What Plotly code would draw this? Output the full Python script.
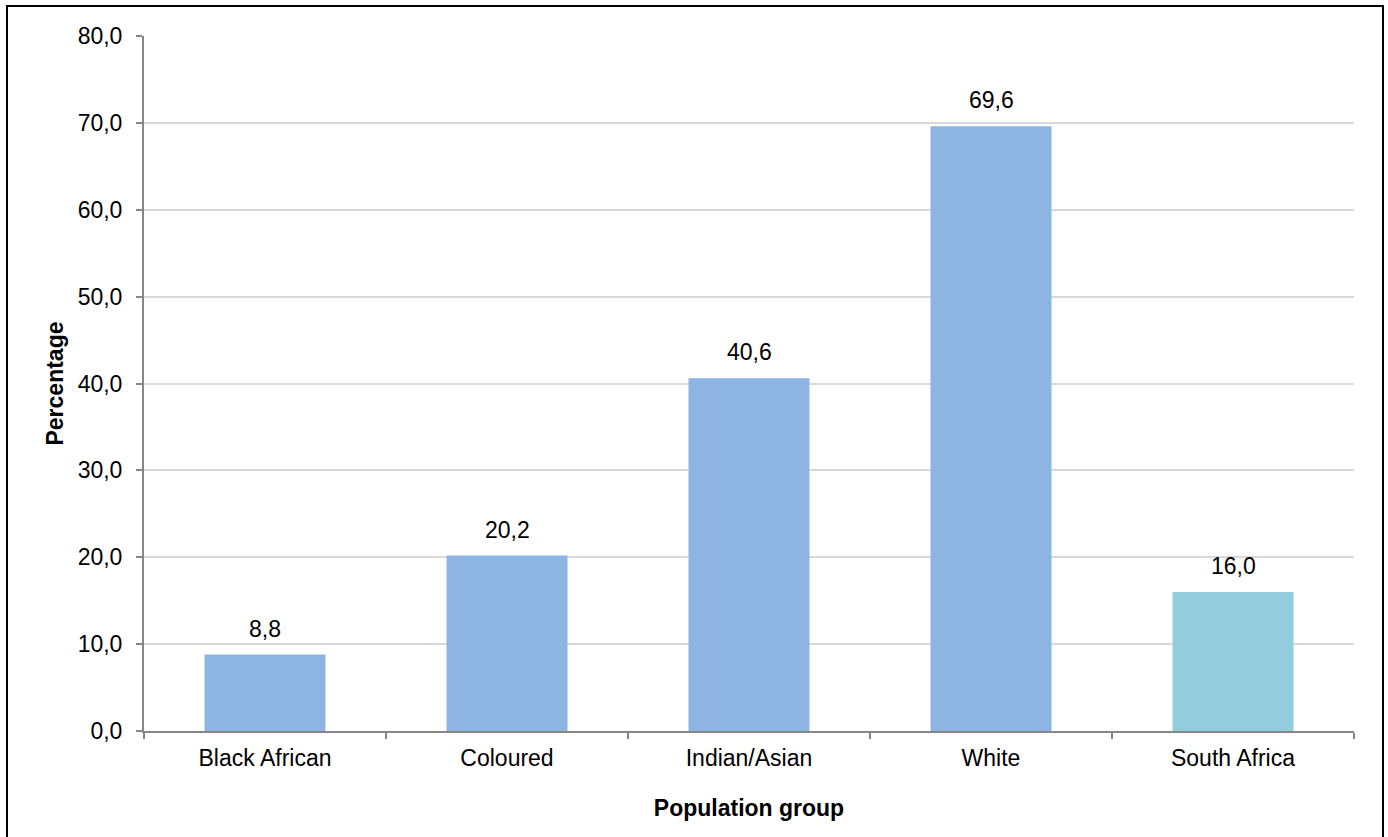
import plotly.graph_objects as go

categories = ["Black African", "Coloured", "Indian/Asian", "White", "South Africa"]
values = [8.8, 20.2, 40.6, 69.6, 16.0]
bar_colors = ["#8EB4E3", "#8EB4E3", "#8EB4E3", "#8EB4E3", "#93CDDD"]
y_ticks = [0, 10, 20, 30, 40, 50, 60, 70, 80]

W, H = 1388, 837
L, R, T, B = 144, 34, 36, 106
pw, ph = W - L - R, H - T - B

FONT = "Liberation Sans, Arial, sans-serif"
FS = 23

fig = go.Figure()
fig.add_trace(go.Bar(
    x=categories, y=values, marker_color=bar_colors, marker_line_width=0,
    hoverinfo="skip",
))

for c, v in zip(categories, values):
    fig.add_annotation(x=c, y=v, text=f"{v:.1f}".replace(".", ","), showarrow=False,
                       yanchor="bottom", yshift=11,
                       font=dict(family=FONT, size=FS, color="#000000"))

def px_x(p):
    return (p - L) / pw

def px_y(p):
    return (H - B - p) / ph

fig.add_shape(type="rect", xref="paper", yref="paper",
              x0=px_x(7), x1=px_x(1383), y0=px_y(860), y1=px_y(6),
              line=dict(color="#000000", width=2), fillcolor="rgba(0,0,0,0)")

fig.update_layout(
    width=W, height=H,
    margin=dict(l=L, r=R, t=T, b=B, pad=0),
    paper_bgcolor="#FFFFFF", plot_bgcolor="#FFFFFF",
    separators=",.",
    bargap=0.5,
    showlegend=False,
    font=dict(family=FONT, size=FS, color="#000000"),
    xaxis=dict(
        showline=True, linecolor="#868686", linewidth=2,
        ticks="outside", tickson="boundaries", ticklen=6, tickcolor="#868686", tickwidth=2,
        ticklabelstandoff=5,
        showgrid=False,
        tickfont=dict(family=FONT, size=FS, color="#000000"),
        title=dict(text="<b>Population group</b>", font=dict(family=FONT, size=FS, color="#000000"), standoff=30),
    ),
    yaxis=dict(
        range=[0, 80], tickvals=y_ticks, tickformat=".1f",
        showline=True, linecolor="#868686", linewidth=2,
        ticks="outside", ticklen=6, tickcolor="#868686", tickwidth=2,
        ticklabelstandoff=9,
        showgrid=True, gridcolor="#D9D9D9", gridwidth=2,
        zeroline=False,
        tickfont=dict(family=FONT, size=FS, color="#000000"),
        title=dict(text="<b>Percentage</b>", font=dict(family=FONT, size=FS, color="#000000"), standoff=8),
    ),
)

fig.write_html("out.html")
